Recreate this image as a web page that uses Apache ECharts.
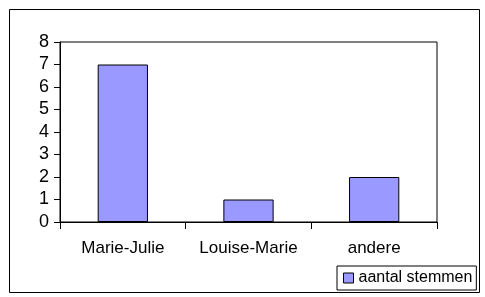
<!DOCTYPE html>
<html><head><meta charset="utf-8">
<script src="https://cdn.jsdelivr.net/npm/echarts@6/dist/echarts.min.js"></script>
<style>html,body{margin:0;padding:0;background:#fff}#c{width:485px;height:297px}</style>
</head><body><div id="c"></div>
<script>
const categories = ['Marie-Julie', 'Louise-Marie', 'andere'];
const seriesName = 'aantal stemmen';
const values = [7, 1, 2];
const yTicks = [0, 1, 2, 3, 4, 5, 6, 7, 8];

const chart = echarts.init(document.getElementById('c'), null, {renderer: 'canvas'});
const font = 'Liberation Sans, Arial, sans-serif';
chart.setOption({
  animation: false,
  backgroundColor: '#fff',
  graphic: [{
    type: 'rect', left: 7, top: 7, shape: {width: 470, height: 283},
    style: {fill: 'none', stroke: '#000', lineWidth: 1}, silent: true
  }],
  grid: {left: 60, right: 48, top: 42, bottom: 75, show: true, borderColor: '#000', borderWidth: 1, backgroundColor: 'transparent'},
  legend: {
    show: true, data: [seriesName], left: 337, top: 266,
    padding: [4, 4, 4, 6], itemWidth: 10, itemHeight: 10, itemGap: 4,
    borderColor: '#000', borderWidth: 1, backgroundColor: '#fff',
    textStyle: {fontFamily: font, fontSize: 16, color: '#000'},
    icon: 'rect',
    itemStyle: {borderColor: '#000', borderWidth: 1}
  },
  xAxis: {
    type: 'category', data: categories,
    axisLine: {lineStyle: {color: '#000', width: 1}},
    axisTick: {show: true, length: 7, lineStyle: {color: '#000'}},
    axisLabel: {fontFamily: font, fontSize: 17, color: '#000', margin: 18, interval: 0}
  },
  yAxis: {
    type: 'value', min: yTicks[0], max: yTicks[yTicks.length - 1], interval: 1,
    axisLine: {show: true, lineStyle: {color: '#000', width: 1}},
    axisTick: {show: true, length: 6, lineStyle: {color: '#000'}},
    splitLine: {show: false},
    axisLabel: {fontFamily: font, fontSize: 18, color: '#000', margin: 11}
  },
  series: [{
    name: seriesName, type: 'bar', data: values, barWidth: '40%',
    itemStyle: {color: '#9999FF', borderColor: '#000', borderWidth: 1}
  }]
});
</script></body></html>
